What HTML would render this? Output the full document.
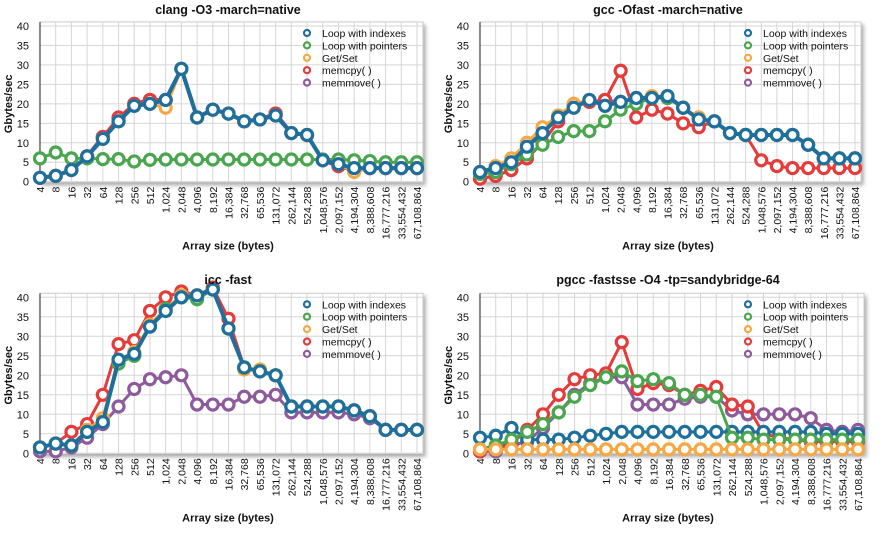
<!DOCTYPE html>
<html><head><meta charset="utf-8">
<style>
html,body{margin:0;padding:0;background:#fff;}
svg{display:block;font-family:"Liberation Sans",sans-serif;}
</style></head>
<body>
<svg id="c" width="883" height="558" viewBox="0 0 883 558" xmlns="http://www.w3.org/2000/svg">
<defs><filter id="sh" x="-5%" y="-5%" width="115%" height="120%"><feDropShadow dx="2" dy="3" stdDeviation="2" flood-color="#000" flood-opacity="0.35"/></filter></defs>
</svg>
<script>
const categories=["4","8","16","32","64","128","256","512","1,024","2,048","4,096","8,192","16,384","32,768","65,536","131,072","262,144","524,288","1,048,576","2,097,152","4,194,304","8,388,608","16,777,216","33,554,432","67,108,864"];
const seriesNames=["Loop with indexes","Loop with pointers","Get/Set","memcpy( )","memmove( )"];
const yTicks=[0,5,10,15,20,25,30,35,40];
const chartTitles=["clang -O3 -march=native","gcc -Ofast -march=native","icc -fast","pgcc -fastsse -O4 -tp=sandybridge-64"];
const clangIdx=[1,1.5,3,6.5,11,15.5,19.5,20,21,29,16.5,18.5,17.5,15.5,16,17,12.5,12,5.5,4.5,3.5,3.5,3.5,3.5,3.5];
const clangPtr=[6,7.5,6,6,5.8,5.8,5.2,5.6,5.7,5.7,5.7,5.7,5.7,5.7,5.7,5.7,5.7,5.7,5.7,5.7,5.5,5.3,5,5,5];
const clangGet=[1,1.5,3,6.5,11,15.5,19.5,20,19,29,16.5,18.5,17.5,15.5,16,17,12.5,12,5.5,4.5,2.5,3.5,3.5,3.5,3.5];
const clangCpy=[1,1.5,3,6.5,11.5,16.5,20,21,21,29,16.5,18.5,17.5,15.5,16,17.5,12.5,12,5.5,4,3,3.5,3.5,3.5,3.5];
const clangMove=[1,1.5,3,6.5,11.5,16,20,21,21,29,16.5,18.5,17.5,15.5,16,17.5,12.5,12,5.5,4,3,3.5,3.5,3.5,3.5];
const gccIdx=[2.5,3.5,5,9,12.5,16.5,19,21,19.5,20.5,21.5,21.5,22,19,16,15.5,12.5,12,12,12,12,9.5,6,6,6];
const gccPtr=[2,2.5,4.5,7,9.5,11.5,13,13,15.5,18.5,20,21.5,21.5,19,16,15.5,12.5,12,12,12,12,9.5,6,6,6];
const gccGet=[2.5,4,6,10,14,17,20,21,19.5,20.5,21.5,22,22,19,16.5,15.5,12.5,12,12,12,12,9.5,6,6,6];
const gccCpy=[0.8,1.5,3,6,10,15.5,20,20.5,21,28.5,16.5,18.5,17.5,15,14,15.5,12.5,12,5.5,4,3.5,3.5,3.5,3.5,3.5];
const gccMove=[0.8,1.5,3,6,10,15.5,19.5,20.5,21,20.5,21.5,21.5,21.5,19,16.5,15.5,12.5,12,12,12,12,9.5,6,6,6];
const iccIdx=[1.5,2.5,2,5.5,8,24,25.5,32.5,36.5,40,40.5,42,32,22,21,20,12,12,12,12,11,9.5,6,6,6];
const iccPtr=[1.5,2.5,2,5.5,8,23,25,32.5,37,40,39.5,42,32,22,21,20,12,12,12,12,11,9.5,6,6,6];
const iccGet=[1.5,2.5,2,6,9,24,26,33,37,40.5,40.5,42,32,21.5,21.5,20,12,12,12,12,11,9.5,6,6,6];
const iccCpy=[1.5,2.5,5.5,7.5,15,28,29,36.5,40,41.5,40.5,42.5,34.5,22,21,20,12,12,12,12,11,9.5,6,6,6];
const iccMove=[0.5,0.5,1.5,4,7.5,12,16.5,19,19.5,20,12.5,12.5,12.5,14.5,14.5,15,10.5,10.5,10.5,10.5,10,9,6,6,6];
const pgIdx=[4,4.5,6.5,3.5,3.5,3.5,4,4.5,5,5.5,5.5,5.5,5.5,5.5,5.5,5.5,5.5,5.5,5.5,5.5,5.5,5.5,5,5,5];
const pgPtr=[1,2,3.5,5.5,7.5,10.5,14.5,17.5,19.5,21,18.5,19,18,15,15,14.5,4,4,3.5,3.5,3.5,3.5,3.5,3.5,3.5];
const pgGet=[1,1,1,1,1,1,1,1,1,1,1,1,1,1,1,1,1,1,1,1,1,1,1,1,1];
const pgCpy=[0.5,1.5,2.5,6,10,15,19,20,20.5,28.5,16.5,18,17.5,15,16,17,12.5,12,5,4,3.5,3,3,3,3];
const pgMove=[0.5,0.5,2,3,6.5,10.5,15,18,19.5,19.5,12.5,12.5,12.5,14,14.5,14.5,11,10,10,10,10,9,6,5.5,6];

const colors=["#1f6f9c","#4aa64e","#f6a845","#e53b3b","#8d5b9b"];
const panels=[
 {x0:40,x1:417,y0:181.7,yT:26,ox:0,oy:0,data:[clangIdx,clangPtr,clangGet,clangCpy,clangMove],order:[1,4,3,2,0],lw:[4,3,3,3,4]},
 {x0:480,x1:855,y0:181.7,yT:26,ox:440,oy:0,data:[gccIdx,gccPtr,gccGet,gccCpy,gccMove],order:[4,3,2,1,0],lw:[4,3,3,3,3]},
 {x0:40,x1:417,y0:453.3,yT:297.3,ox:0,oy:270,data:[iccIdx,iccPtr,iccGet,iccCpy,iccMove],order:[4,3,2,1,0],lw:[4,3,3,3,3]},
 {x0:480,x1:858,y0:453.3,yT:297.3,ox:440,oy:270,data:[pgIdx,pgPtr,pgGet,pgCpy,pgMove],order:[4,3,0,1,2],lw:[3,3,3,3,3]}
];
const svg=document.getElementById('c');
const NS="http://www.w3.org/2000/svg";
function mk(t,a,p){const e=document.createElementNS(NS,t);for(const k in a)e.setAttribute(k,a[k]);(p||svg).appendChild(e);return e;}
panels.forEach((P,pi)=>{
 const g=mk('g',{});
 
 
 const xs=i=>P.x0+i*(P.x1-P.x0)/(categories.length-1);
 const ys=v=>P.y0-v*(P.y0-P.yT)/40;
 const bg=mk('rect',{x:P.x0,y:P.yT-4,width:P.x1-P.x0+6,height:P.y0-P.yT+4,fill:'#fff',stroke:'#ccc',filter:'url(#sh)'},g);
 
 
 categories.forEach((c,i)=>{
  const l=mk('line',{x1:xs(i),x2:xs(i),y1:P.yT-4,y2:P.y0,stroke:'#d6d6d6','stroke-width':1},g);
  
  
  const t=mk('text',{x:0,y:0,'font-size':10.5,'text-anchor':'end',transform:`translate(${xs(i)+4},${P.y0+5}) rotate(-90)`,fill:'#111'},g);
  t.textContent=c;
  
  
 });
 yTicks.forEach(v=>{
  const l=mk('line',{x1:P.x0,x2:P.x1+6,y1:ys(v),y2:ys(v),stroke:'#d6d6d6','stroke-width':1},g);
  
  
  const t=mk('text',{x:P.x0-11,y:ys(v)+4,'font-size':11,'text-anchor':'end',fill:'#111'},g);
  t.textContent=v;
  
  
 });
 const ax=mk('line',{x1:P.x0,x2:P.x0,y1:P.yT-4,y2:P.y0,stroke:'#222','stroke-width':1},g);
 
 
 P.order.forEach(si=>{
  const d=P.data[si];
  const sg=mk('g',{},g);
  
  
  const pl=mk('polyline',{points:d.map((v,i)=>xs(i)+','+ys(v)).join(' '),fill:'none',stroke:colors[si],'stroke-width':P.lw[si],'stroke-linejoin':'round'},sg);
  
  
  d.forEach((v,i)=>{
   const c=mk('circle',{cx:xs(i),cy:ys(v),r:5.5,fill:'#fff',stroke:colors[si],'stroke-width':3.2},sg);
   
   
  });
 });
 const tt=mk('text',{x:P.ox+228,y:P.oy+14,'font-size':12.5,'font-weight':'bold','text-anchor':'middle',fill:'#111'},g);
 tt.textContent=chartTitles[pi];
 
 
 const yt=mk('text',{x:0,y:0,'font-size':11,'font-weight':'bold','text-anchor':'middle',transform:`translate(${P.ox+12},${(P.y0+P.yT)/2}) rotate(-90)`,fill:'#111'},g);
 yt.textContent='Gbytes/sec';
 
 
 const xt=mk('text',{x:P.ox+228,y:P.y0+68,'font-size':11,'font-weight':'bold','text-anchor':'middle',fill:'#111'},g);
 xt.textContent='Array size (bytes)';
 
 
 const lx=P.ox+(pi%2?308:307), ly=P.yT+7;
 seriesNames.forEach((n,si)=>{
  const lg=mk('g',{},g);
  
  
  mk('circle',{cx:lx,cy:ly+si*12.4,r:3,fill:'#fff',stroke:colors[si],'stroke-width':2.2},lg);
  const t=mk('text',{x:lx+15,y:ly+si*12.4+4,'font-size':10.5,fill:'#111'},lg);
  t.textContent=n;
 });
});
</script>
</body></html>
